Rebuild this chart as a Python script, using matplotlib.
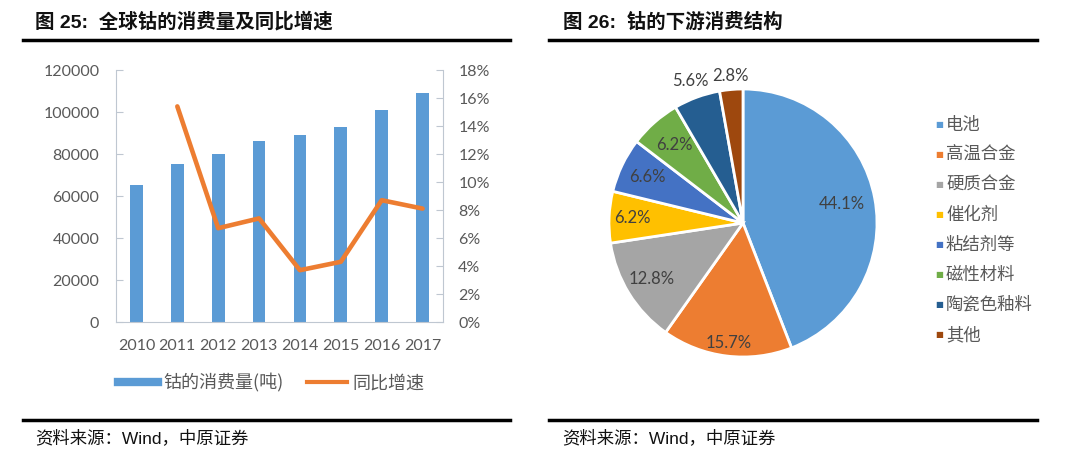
import matplotlib
matplotlib.use("Agg")
import matplotlib.pyplot as plt
from matplotlib.lines import Line2D
import numpy as np

plt.rcParams['font.family'] = ['Lato', 'Noto Sans CJK SC', 'DejaVu Sans']

# ---- data ----
years = ['2010', '2011', '2012', '2013', '2014', '2015', '2016', '2017']
consumption = [65000, 75000, 80000, 86000, 89000, 93000, 101000, 109000]
growth = [None, 15.4, 6.7, 7.4, 3.7, 4.3, 8.7, 8.1]  # %
left_yticks = [0, 20000, 40000, 60000, 80000, 100000, 120000]
right_yticks = [0, 2, 4, 6, 8, 10, 12, 14, 16, 18]

pie_labels = ['电池', '高温合金', '硬质合金', '催化剂', '粘结剂等', '磁性材料', '陶瓷色釉料', '其他']
pie_values = [44.1, 15.7, 12.8, 6.2, 6.6, 6.2, 5.6, 2.8]
pie_colors = ['#5B9BD5', '#ED7D31', '#A5A5A5', '#FFC000', '#4472C4', '#70AD47', '#255E91', '#9E480E']
label_dist = [0.75, 0.90, 0.80, 0.83, 0.79, 0.78, 1.13, 1.10]

W, H = 1080, 455
fig = plt.figure(figsize=(W / 100, H / 100), dpi=100)
fig.patch.set_facecolor('white')

def fx(px):
    return px / W

def fy(py):
    return 1 - py / H

grey = '#595959'
spine_c = '#BFC7D1'

# ---- left chart ----
ax = fig.add_axes([fx(116), fy(322), fx(443 - 116), (322 - 70) / H])
x = np.arange(len(years))
ax.bar(x, consumption, width=0.31, color='#5B9BD5', zorder=2, label='钴的消费量(吨)')
ax.set_xlim(-0.5, len(years) - 0.5)
ax.set_ylim(0, 120000)
ax.set_yticks(left_yticks)
ax.set_yticklabels([str(v) for v in left_yticks])
ax.set_xticks(x)
ax.set_xticklabels(years)
ax.tick_params(axis='y', direction='in', length=5, color=spine_c, labelcolor=grey, labelsize=11.5, pad=12)
ax.tick_params(axis='x', length=0, labelcolor=grey, labelsize=11.5, pad=12)
for s in ['top', 'right']:
    ax.spines[s].set_visible(False)
for s in ['left', 'bottom']:
    ax.spines[s].set_color(spine_c)

ax2 = ax.twinx()
gx = [i for i, g in enumerate(growth) if g is not None]
gy = [g for g in growth if g is not None]
ax2.plot(gx, gy, color='#ED7D31', lw=3.3, solid_capstyle='round', solid_joinstyle='round', zorder=3)
ax2.set_ylim(0, 18)
ax2.set_yticks(right_yticks)
ax2.set_yticklabels([f'{v}%' for v in right_yticks])
ax2.tick_params(axis='y', direction='in', length=5, color=spine_c, labelcolor=grey, labelsize=11.5, pad=11)
for s in ['top', 'left', 'bottom']:
    ax2.spines[s].set_visible(False)
ax2.spines['right'].set_color(spine_c)

handles = [Line2D([], [], color='#5B9BD5', lw=6), Line2D([], [], color='#ED7D31', lw=3)]
fig.legend(handles, ['钴的消费量(吨)', '同比增速'], loc='center', bbox_to_anchor=(fx(271), fy(383)),
           ncol=2, frameon=False, handlelength=2.2, handletextpad=0.3, columnspacing=1.3,
           prop={'family': ['Noto Sans CJK SC'], 'size': 13}, labelcolor=grey)

# ---- right chart (pie) ----
cx, cy, r = 743, 223, 134
axp = fig.add_axes([fx(cx - r), fy(cy + r), 2 * r / W, 2 * r / H])
wedges, _ = axp.pie(pie_values, colors=pie_colors, startangle=90, counterclock=False, radius=1,
                    wedgeprops=dict(edgecolor='white', linewidth=2))
axp.set_xlim(-1, 1)
axp.set_ylim(-1, 1)
axp.set_axis_off()
for w, v, d in zip(wedges, pie_values, label_dist):
    ang = np.deg2rad((w.theta1 + w.theta2) / 2)
    axp.text(d * np.cos(ang), d * np.sin(ang), f'{v}%', ha='center', va='center',
             fontsize=12, color='#404040')

# legend for pie
for i, (lab, col) in enumerate(zip(pie_labels, pie_colors)):
    yy = 125 + 30 * i
    fig.text(fx(935), fy(yy), '■', color=col, fontsize=6, ha='left', va='center',
             family=['DejaVu Sans'])
    fig.text(fx(946), fy(yy), lab, color=grey, fontsize=12.5, ha='left', va='center',
             family=['Noto Sans CJK SC'])

# ---- titles, rules, sources ----
title_font = ['Liberation Sans', 'Noto Sans CJK SC']
fig.text(fx(35), fy(22), '图 25:  全球钴的消费量及同比增速', fontsize=14, fontweight='bold',
         ha='left', va='center', family=title_font, color='#111111')
fig.text(fx(563), fy(22), '图 26:  钴的下游消费结构', fontsize=14, fontweight='bold',
         ha='left', va='center', family=title_font, color='#111111')

for (x0, x1) in [(23, 510), (549, 1037)]:
    for yy in (40, 420):
        fig.add_artist(Line2D([fx(x0), fx(x1)], [fy(yy), fy(yy)], transform=fig.transFigure,
                              color='black', lw=2.5))

src_font = ['Liberation Sans', 'Noto Sans CJK SC']
fig.text(fx(35), fy(438), '资料来源：Wind，中原证券', fontsize=12.5, ha='left', va='center',
         family=src_font, color='#111111')
fig.text(fx(562), fy(438), '资料来源：Wind，中原证券', fontsize=12.5, ha='left', va='center',
         family=src_font, color='#111111')

fig.savefig('out.png', dpi=100, facecolor='white')
